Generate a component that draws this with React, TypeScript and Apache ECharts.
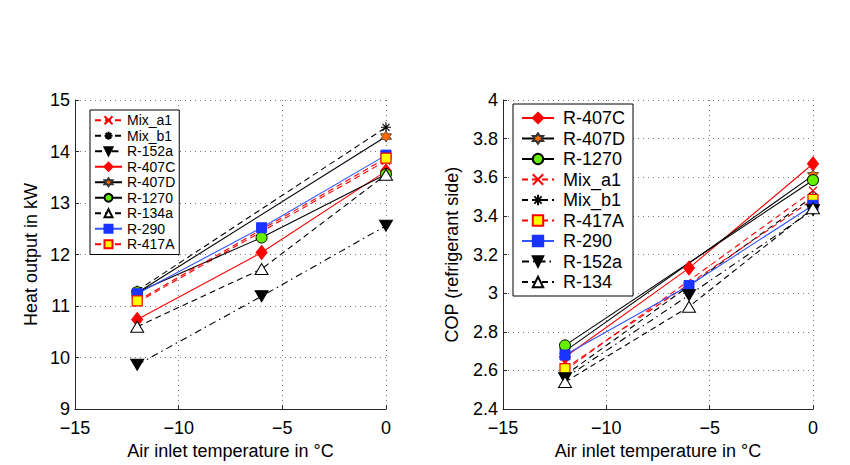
import React, { useEffect, useRef } from "react";
import * as echarts from "echarts";

// ---- data ----
const xTemps = [-12, -6, 0];

const heatMixA1 = [11.07, null, 13.82];
const heatMixB1 = [11.3, null, 14.47];
const heatR152a = [9.86, 11.19, 12.56];
const heatR407C = [10.74, 12.04, 13.62];
const heatR407D = [11.26, null, 14.29];
const heatR1270 = [11.27, 12.33, 13.56];
const heatR134a = [10.6, 11.72, 13.55];
const heatR290 = [11.24, 12.52, 13.93];
const heatR417A = [11.1, null, 13.87];

const copR407C = [2.67, 3.13, 3.67];
const copR407D = [2.7, null, 3.61];
const copR1270 = [2.73, null, 3.585];
const copMixA1 = [2.6, null, 3.53];
const copMixB1 = [2.575, null, 3.5];
const copR417A = [2.61, null, 3.485];
const copR290 = [2.68, 3.04, 3.455];
const copR152a = [2.56, 2.99, 3.43];
const copR134 = [2.54, 2.93, 3.44];

const leftLegend = ["Mix_a1", "Mix_b1", "R-152a", "R-407C", "R-407D", "R-1270", "R-134a", "R-290", "R-417A"];
const rightLegend = ["R-407C", "R-407D", "R-1270", "Mix_a1", "Mix_b1", "R-417A", "R-290", "R-152a", "R-134"];

const xTitle = "Air inlet temperature in °C";
const yTitleLeft = "Heat output in kW";
const yTitleRight = "COP (refrigerant side)";

// ---- symbol shapes ----
const X_PATH = "path://M0,0L10,10M10,0L0,10";
const STAR_PATH = "path://M5,0L5,10M0,5L10,5M1.5,1.5L8.5,8.5M8.5,1.5L1.5,8.5";
const hexPts: string[] = [];
for (let k = 0; k < 12; k++) {
  const a = ((-90 + k * 30) * Math.PI) / 180;
  const r = k % 2 === 0 ? 10 : 5.77;
  hexPts.push(`${(10 + r * Math.cos(a)).toFixed(2)},${(10 + r * Math.sin(a)).toFixed(2)}`);
}
const HEX_PATH = "path://M" + hexPts.join("L") + "Z";

const RED = "#ff0000";
const BLUE = "#3355ff";
const BLACK = "#000000";
const DASH = [6, 4];
const DASHDOT = [7, 4, 1.5, 4];
const FONT = "Liberation Sans";

type Sty = { color: string; type: any; symbol: string; size: any; fill: string; border: string; bw: number; rotate?: number };
const styles: Record<string, Sty> = {
  Mix_a1: { color: RED, type: DASH, symbol: X_PATH, size: 8, fill: RED, border: RED, bw: 1.2 },
  Mix_b1: { color: BLACK, type: DASH, symbol: STAR_PATH, size: 10, fill: BLACK, border: BLACK, bw: 1.1 },
  "R-152a": { color: BLACK, type: DASHDOT, symbol: "triangle", size: [13, 11], fill: BLACK, border: BLACK, bw: 1, rotate: 180 },
  "R-407C": { color: RED, type: "solid", symbol: "diamond", size: [11, 14], fill: RED, border: RED, bw: 1 },
  "R-407D": { color: BLACK, type: "solid", symbol: HEX_PATH, size: 11, fill: "#ff6a00", border: "#333", bw: 0.8 },
  "R-1270": { color: BLACK, type: "solid", symbol: "circle", size: 11, fill: "#66ee00", border: BLACK, bw: 1 },
  "R-134a": { color: BLACK, type: DASH, symbol: "triangle", size: [13, 11], fill: "#ffffff", border: BLACK, bw: 1 },
  "R-134": { color: BLACK, type: DASH, symbol: "triangle", size: [13, 11], fill: "#ffffff", border: BLACK, bw: 1 },
  "R-290": { color: BLUE, type: "solid", symbol: "rect", size: 10, fill: "#1a33ff", border: "#1a33ff", bw: 1 },
  "R-417A": { color: RED, type: DASH, symbol: "rect", size: 10, fill: "#ffff00", border: RED, bw: 1.2 },
};

function pts(vals: (number | null)[]) {
  const out: number[][] = [];
  vals.forEach((v, i) => {
    if (v !== null) out.push([xTemps[i], v]);
  });
  return out;
}

function mk(name: string, vals: (number | null)[], g: number) {
  const s = styles[name];
  return {
    type: "line",
    name,
    xAxisIndex: g,
    yAxisIndex: g,
    data: pts(vals),
    symbol: s.symbol,
    symbolSize: s.size,
    symbolRotate: s.rotate || 0,
    showAllSymbol: true,
    lineStyle: { color: s.color, width: 1.1, type: s.type },
    itemStyle: { color: s.fill, borderColor: s.border, borderWidth: s.bw },
    emphasis: { disabled: true },
  };
}

const fmtMinus = (v: number) => {
  const t = Number(v.toFixed(1)).toString();
  return t.replace("-", "\u2212");
};

function xAxisCfg(g: number) {
  return {
    type: "value",
    gridIndex: g,
    min: -15,
    max: 0,
    interval: 5,
    name: xTitle,
    nameLocation: "middle",
    nameGap: 29,
    nameTextStyle: { fontSize: 18, color: "#000", fontFamily: FONT },
    axisLine: { show: true, onZero: false, lineStyle: { color: "#262626", width: 1 } },
    axisTick: { show: true, inside: true, length: 4, lineStyle: { color: "#262626" } },
    axisLabel: { fontSize: 18, color: "#000", margin: 10, fontFamily: FONT, formatter: fmtMinus },
    splitLine: { show: true, lineStyle: { color: "#777", type: [1, 4], width: 1 } },
  };
}

function yAxisCfg(g: number, min: number, max: number, interval: number, name: string, gap: number) {
  return {
    type: "value",
    gridIndex: g,
    min,
    max,
    interval,
    name,
    nameLocation: "middle",
    nameGap: gap,
    nameTextStyle: { fontSize: 18, color: "#000", fontFamily: FONT },
    axisLine: { show: true, onZero: false, lineStyle: { color: "#262626", width: 1 } },
    axisTick: { show: true, inside: true, length: 4, lineStyle: { color: "#262626" } },
    axisLabel: { fontSize: 18, color: "#000", margin: 5, fontFamily: FONT, formatter: fmtMinus },
    splitLine: { show: true, lineStyle: { color: "#777", type: [1, 4], width: 1 } },
  };
}

export default function App() {
  const ref = useRef<HTMLDivElement>(null);
  useEffect(() => {
    if (!ref.current) return;
    const chart = echarts.init(ref.current, null, { renderer: "svg" });
    const series = [
      mk("Mix_a1", heatMixA1, 0),
      mk("Mix_b1", heatMixB1, 0),
      mk("R-152a", heatR152a, 0),
      mk("R-407C", heatR407C, 0),
      mk("R-407D", heatR407D, 0),
      mk("R-1270", heatR1270, 0),
      mk("R-134a", heatR134a, 0),
      mk("R-290", heatR290, 0),
      mk("R-417A", heatR417A, 0),
      mk("R-407C", copR407C, 1),
      mk("R-407D", copR407D, 1),
      mk("R-1270", copR1270, 1),
      mk("Mix_a1", copMixA1, 1),
      mk("Mix_b1", copMixB1, 1),
      mk("R-417A", copR417A, 1),
      mk("R-290", copR290, 1),
      mk("R-152a", copR152a, 1),
      mk("R-134", copR134, 1),
    ];
    chart.setOption({
      animation: false,
      backgroundColor: "#ffffff",
      textStyle: { fontFamily: FONT },
      grid: [
        { left: 75, top: 100, width: 311, height: 311, containLabel: false },
        { left: 503, top: 100, width: 310, height: 311, containLabel: false },
      ],
      xAxis: [xAxisCfg(0), xAxisCfg(1)],
      yAxis: [
        yAxisCfg(0, 9, 15, 1, yTitleLeft, 35),
        yAxisCfg(1, 2.4, 4, 0.2, yTitleRight, 42),
      ],
      legend: [
        {
          data: leftLegend,
          orient: "vertical",
          left: 90,
          top: 110,
          itemWidth: 27,
          itemHeight: 10,
          itemGap: 1,
          padding: [3, 4, 3, 4],
          borderColor: "#000",
          borderWidth: 1,
          backgroundColor: "#fff",
          selectedMode: false,
          textStyle: { fontSize: 14, lineHeight: 14.5, color: "#000", fontFamily: FONT, padding: [0, 0, 0, 0] },
        },
        {
          data: rightLegend,
          orient: "vertical",
          left: 513,
          top: 104,
          itemWidth: 32,
          itemHeight: 13,
          itemGap: 0.5,
          padding: [4, 8, 4, 8],
          borderColor: "#000",
          borderWidth: 1,
          backgroundColor: "#fff",
          selectedMode: false,
          textStyle: { fontSize: 18, lineHeight: 20, color: "#000", fontFamily: FONT, padding: [0, 0, 0, 4] },
        },
      ],
      series,
    });
    return () => chart.dispose();
  }, []);
  return <div ref={ref} style={{ position: "absolute", left: 0, top: 0, width: 850, height: 465 }} />;
}
